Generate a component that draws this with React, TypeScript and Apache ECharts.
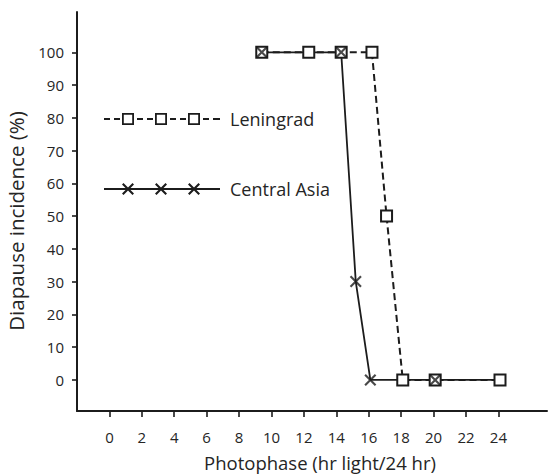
import React, { useEffect, useRef } from "react";
import * as echarts from "echarts";

// ---- data ----
const xTicks = [0, 2, 4, 6, 8, 10, 12, 14, 16, 18, 20, 22, 24];
const yTicks = [0, 10, 20, 30, 40, 50, 60, 70, 80, 90, 100];

const leningradX = [9.4, 12.3, 14.3, 16.2, 17.1, 18.1, 20.1, 24.1];
const leningradY = [100, 100, 100, 100, 50, 0, 0, 0];

const centralAsiaX = [9.4, 14.3, 15.2, 16.1, 20.1, 24.1];
const centralAsiaY = [100, 100, 30, 0, 0, 0];
const centralAsiaMarked = [true, true, true, true, true, false];

const seriesNames = ["Leningrad", "Central Asia"];
const xTitle = "Photophase (hr light/24 hr)";
const yTitle = "Diapause incidence (%)";

const INK = "#1c1c1c";
const TEXT = "#252525";
const FONT = "'Open Sans', 'Lato', sans-serif";

const X_PATH = "M0,1.5L1.5,0L6,4.5L10.5,0L12,1.5L7.5,6L12,10.5L10.5,12L6,7.5L1.5,12L0,10.5L4.5,6Z";

function rect(x0: number, y0: number, x1: number, y1: number, ccw = false) {
  return ccw
    ? `M${x0},${y0}L${x0},${y1}L${x1},${y1}L${x1},${y0}Z`
    : `M${x0},${y0}L${x1},${y0}L${x1},${y1}L${x0},${y1}Z`;
}
function crossAt(cx: number, cy: number) {
  const pts = [
    [0, 1.5], [1.5, 0], [6, 4.5], [10.5, 0], [12, 1.5], [7.5, 6],
    [12, 10.5], [10.5, 12], [6, 7.5], [1.5, 12], [0, 10.5], [4.5, 6],
  ];
  return "M" + pts.map(([x, y]) => `${x + cx - 6},${y + cy - 6}`).join("L") + "Z";
}

const legendCenters = [24, 57, 90];
const leningradIcon =
  "path://" +
  [
    rect(0, 6, 6, 8), rect(10, 6, 16, 8),
    rect(33, 6, 39, 8), rect(43, 6, 49, 8),
    rect(66, 6, 72, 8), rect(76, 6, 82, 8),
    rect(99, 6, 105, 8), rect(109, 6, 116, 8),
    ...legendCenters.map((c) => rect(c - 6, 1, c + 6, 13) + rect(c - 4.2, 2.8, c + 4.2, 11.2, true)),
  ].join("");
const centralAsiaIcon =
  "path://" +
  [rect(0, 6.1, 116, 7.9), ...legendCenters.map((c) => crossAt(c, 7))].join("");

const noLabel = { show: false };

export default function App() {
  const ref = useRef<HTMLDivElement>(null);
  useEffect(() => {
    if (!ref.current) return;
    const chart = echarts.init(ref.current, null, { renderer: "svg" });
    const lenData = leningradX.map((x, i) => [x, leningradY[i]]);
    const caData = centralAsiaX.map((x, i) => [x, centralAsiaY[i]]);
    const caMarks = caData.filter((_, i) => centralAsiaMarked[i]);
    chart.setOption({
      animation: false,
      backgroundColor: "#ffffff",
      textStyle: { fontFamily: FONT },
      tooltip: { show: false },
      grid: { left: 77, right: 1, top: 12, bottom: 64, containLabel: false },
      xAxis: {
        type: "value",
        min: -2,
        max: 27,
        axisLine: { show: true, onZero: false, lineStyle: { color: INK, width: 2 } },
        axisTick: { show: true, customValues: xTicks, length: 6, lineStyle: { color: INK, width: 1.6 } },
        axisLabel: { customValues: xTicks, margin: 18, fontSize: 15, color: TEXT, fontFamily: FONT },
        splitLine: { show: false },
        axisPointer: { show: false },
      },
      yAxis: {
        type: "value",
        min: -9.5,
        max: 112.3,
        axisLine: { show: true, onZero: false, lineStyle: { color: INK, width: 2 } },
        axisTick: { show: true, customValues: yTicks, length: 5, lineStyle: { color: INK, width: 1.6 } },
        axisLabel: { customValues: yTicks, margin: 13, fontSize: 15, color: TEXT, fontFamily: FONT },
        splitLine: { show: false },
        axisPointer: { show: false },
      },
      legend: {
        orient: "vertical",
        left: 104,
        top: 110,
        padding: 0,
        itemWidth: 116,
        itemHeight: 14,
        itemGap: 52,
        selectedMode: false,
        symbolKeepAspect: true,
        itemStyle: { color: INK, borderColor: INK, borderWidth: 0 },
        textStyle: { fontSize: 18, lineHeight: 14, color: TEXT, fontFamily: FONT, padding: [0, 0, 0, 5] },
        data: [
          { name: seriesNames[0], icon: leningradIcon },
          { name: seriesNames[1], icon: centralAsiaIcon },
        ],
      },
      graphic: [
        {
          type: "text",
          x: 320,
          y: 462,
          style: { text: xTitle, fontSize: 18.5, fontFamily: FONT, fill: TEXT, textAlign: "center", textVerticalAlign: "middle" },
        },
        {
          type: "text",
          x: 16,
          y: 221,
          rotation: Math.PI / 2,
          style: { text: yTitle, fontSize: 20.5, fontFamily: FONT, fill: TEXT, textAlign: "center", textVerticalAlign: "middle" },
        },
      ],
      series: [
        {
          name: seriesNames[1],
          type: "line",
          z: 2,
          data: caData,
          symbol: "none",
          label: noLabel,
          emphasis: { disabled: true },
          lineStyle: { color: INK, width: 1.8 },
          itemStyle: { color: INK },
        },
        {
          name: seriesNames[0],
          type: "line",
          z: 3,
          data: lenData,
          symbol: "rect",
          symbolSize: 11,
          showAllSymbol: true,
          label: noLabel,
          emphasis: { disabled: true },
          lineStyle: { color: INK, width: 2, type: [7, 4] },
          itemStyle: { color: "#ffffff", borderColor: INK, borderWidth: 2 },
        },
        {
          name: seriesNames[1],
          type: "scatter",
          z: 4,
          data: caMarks,
          symbol: "path://" + X_PATH,
          symbolSize: 12,
          label: noLabel,
          emphasis: { disabled: true },
          itemStyle: { color: INK, borderWidth: 0 },
        },
      ],
    });
    return () => chart.dispose();
  }, []);
  return (
    <div
      ref={ref}
      style={{ position: "absolute", left: 0, top: 0, width: 548, height: 475 }}
    />
  );
}
